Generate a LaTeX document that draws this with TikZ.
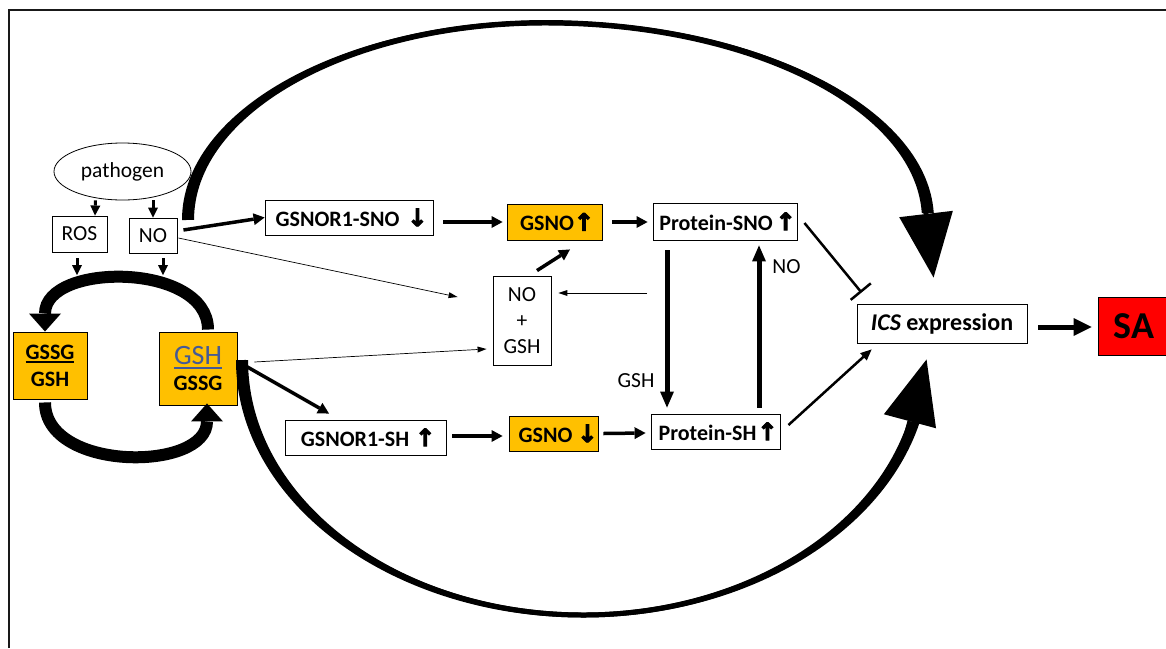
\documentclass[tikz,border=0pt]{standalone}
\usepackage{fontspec}
\setmainfont{Carlito}
\newfontfamily\arrowfont[FakeBold=4]{DejaVu Sans}
\usetikzlibrary{arrows.meta,shapes.geometric}
\definecolor{gold}{HTML}{FFC000}
\definecolor{gshblue}{RGB}{68,90,150}
\newcommand\uarr{\makebox[10pt]{\arrowfont\fontsize{24}{24}\selectfont ↑}}
\newcommand\darr{\makebox[10pt]{\arrowfont\fontsize{24}{24}\selectfont ↓}}
\newcommand\myul[1]{\setbox0\hbox{#1}\rlap{\rule[-4pt]{\wd0}{1.8pt}}\box0}
\tikzset{
  bx/.style={draw=black, line width=0.9pt, rectangle, inner sep=0pt,
    font=\bfseries\fontsize{22}{26}\selectfont, text=black},
  mbx/.style={bx, align=center},
  pbx/.style={bx, align=center, font=\fontsize{21.5}{26}\selectfont},
  lbl/.style={inner sep=0pt, font=\fontsize{21.5}{26}\selectfont},
  thk/.style={line width=3.5pt, -{Triangle[width=12pt,length=11pt,line width=0pt]}},
  sml/.style={line width=3pt, -{Triangle[width=10pt,length=10pt,line width=0pt]}},
  thn/.style={line width=0.7pt, -{Triangle[width=6pt,length=9pt,line width=0pt]}},
  vrt/.style={line width=5pt, -{Triangle[width=14pt,length=16pt,line width=0pt]}},
  cyc/.style={line width=12pt, -{Triangle[width=32pt,length=18pt,line width=0pt]}},
  big/.style={line width=5pt, -{Triangle[width=54pt,length=64pt,line width=0pt]}}
}
\begin{document}
\begin{tikzpicture}[x=1pt,y=-1pt]
\useasboundingbox (0,0) rectangle (1166,648);
% frame
\draw[line width=2pt, black!90] (9,648) -- (9,10) -- (1166,10);

% nodes
\node[draw, ellipse, line width=0.8pt, minimum width=137pt, minimum height=57pt, inner sep=0pt,
  font=\fontsize{21.5}{26}\selectfont] (pathogen) at (122.5,171.5) {pathogen};
\node[pbx, minimum width=55pt, minimum height=36pt] (ROS) at (79.5,234) {ROS};
\node[pbx, minimum width=48pt, minimum height=35pt] (NO) at (153,235.5) {NO};
\node[mbx, fill=gold, minimum width=74pt, minimum height=67pt] (gssg) at (50,365.5)
  {\myul{GSSG}\\[1pt]GSH};
\node[mbx, fill=gold, minimum width=78pt, minimum height=73pt] (gsh) at (198,368.5)
  {{\fontsize{28}{28}\selectfont\mdseries\color{gshblue}\myul{GSH}}\\GSSG};
\node[bx, minimum width=168pt, minimum height=35pt] (gsnorsno) at (349,217.5)
  {GSNOR1-SNO\hspace{13pt}\darr};
\node[bx, fill=gold, minimum width=95pt, minimum height=36pt] (gsnoup) at (554.5,222)
  {GSNO\hspace{5pt}\uarr\hspace{3pt}};
\node[pbx, minimum width=58pt, minimum height=89pt] (nogsh) at (522,320.5) {NO\\+\\GSH};
\node[bx, minimum width=144pt, minimum height=37pt] (psno) at (725,221.5)
  {Protein-SNO\hspace{8pt}\uarr\hspace{4pt}};
\node[bx, minimum width=161pt, minimum height=35pt] (gsnorsh) at (365.5,437.5)
  {GSNOR1-SH\hspace{11pt}\uarr\hspace{14pt}};
\node[bx, fill=gold, minimum width=89pt, minimum height=35pt] (gsnodn) at (553.5,433.5)
  {\hspace{4pt}GSNO\hspace{10pt}\darr};
\node[bx, minimum width=129pt, minimum height=35pt] (psh) at (715.5,431.5)
  {Protein-SH\hspace{6pt}\uarr};
\node[bx, minimum width=170pt, minimum height=39pt, font=\bfseries\fontsize{24}{26}\selectfont]
  (ics) at (942,323.5) {{\itshape ICS} expression};
\node[bx, fill=red, minimum width=72pt, minimum height=58pt,
  font=\bfseries\fontsize{38}{40}\selectfont] (SA) at (1134,326) {SA};
\node[lbl] (gshlbl) at (636,381) {GSH};
\node[lbl] (nolbl) at (786.5,267) {NO};

% free ends
\coordinate (rosdown) at (77,275);
\coordinate (nodown) at (163,275);
\coordinate (rightfree) at (647,293);

% pathogen arrows
\draw[sml] ([shift={(-27,0)}]pathogen.south) -- ([shift={(15.5,0)}]ROS.north);
\draw[sml] ([shift={(30.5,0)}]pathogen.south) -- (NO.north);
\draw[sml] ([shift={(-2.5,6)}]ROS.south) -- (rosdown);
\draw[sml] ([shift={(10,5)}]NO.south) -- (nodown);

% GSSG / GSH cycle
\draw[cyc] ([shift={(10,-2)}]gsh.north) .. controls (208,262) and (45,262) .. ([shift={(-5,0)}]gssg.north);
\draw[cyc] ([shift={(-5,3)}]gssg.south) .. controls (45,472) and (207,472) .. ([shift={(9,-2)}]gsh.south);

% big arcs: tapered bodies
\fill (182,220) arc[start angle=180, end angle=270, x radius=363, y radius=199.5]
  arc[start angle=270, end angle=358, x radius=389, y radius=199.5]
  -- (921.8,213.2)
  arc[start angle=358, end angle=270, x radius=377, y radius=194.5]
  arc[start angle=270, end angle=180, x radius=351, y radius=194.5] -- cycle;
\fill (236,360) arc[start angle=180, end angle=90, x radius=347, y radius=257.5]
  arc[start angle=90, end angle=14, x radius=347, y radius=257.5]
  -- (908.1,421.1)
  arc[start angle=14, end angle=90, x radius=335, y radius=252.5]
  arc[start angle=90, end angle=180, x radius=335, y radius=252.5] -- cycle;
% big arcs: connectors with heads
\draw[big] ([shift={(11,2)}]NO.north east) arc[start angle=180, end angle=270, x radius=357, y radius=197]
  arc[start angle=270, end angle=350, x radius=383, y radius=197] -- ([shift={(77,-26)}]ics.north west);
\draw[big] ([shift={(6,-8.5)}]gsh.east) arc[start angle=180, end angle=90, x radius=340, y radius=255]
  arc[start angle=90, end angle=20, x radius=340, y radius=255] -- ([shift={(70,16)}]ics.south west);

% upper pathway
\draw[thk] ([shift={(6,-5.5)}]NO.east) -- (gsnorsno.west);
\draw[thk] ([shift={(10,4.5)}]gsnorsno.east) -- ([shift={(-4,0)}]gsnoup.west);
\draw[thk] ([shift={(10,0)}]gsnoup.east) -- ([shift={(-5,0.5)}]psno.west);
\draw[thk] ([shift={(15,-5)}]nogsh.north) -- ([shift={(15.5,9)}]gsnoup.south);

% thin arrows
\draw[thn] ([shift={(1,2.5)}]NO.east) -- ([shift={(-35,-23.5)}]nogsh.west);
\draw[thn] ([shift={(17,-6.5)}]gsh.east) -- ([shift={(-6,28.5)}]nogsh.west);
\draw[thn] (rightfree) -- ([shift={(7,-27.5)}]nogsh.east);

% lower pathway
\draw[thk] ([shift={(3,-5.5)}]gsh.east) -- ([shift={(-36.5,-6)}]gsnorsh.north);
\draw[thk] ([shift={(6,-1.5)}]gsnorsh.east) -- ([shift={(-6,2.5)}]gsnodn.west);
\draw[thk] ([shift={(5,0)}]gsnodn.east) -- ([shift={(-5,1.5)}]psh.west);

% protein interconversion
\draw[vrt] ([shift={(-58,10)}]psno.south) -- ([shift={(-48.5,-6)}]psh.north);
\draw[vrt] ([shift={(43.5,-6)}]psh.north) -- ([shift={(34,5)}]psno.south);

% to ICS
\draw[line width=2.5pt, -{Bar[width=26pt,line width=2.5pt]}] ([shift={(7,1.5)}]psno.east) -- ([shift={(5,-11)}]ics.north west);
\draw[line width=2.5pt, -{Triangle[width=10pt,length=11pt,line width=0pt]}] ([shift={(8,-6.5)}]psh.east) -- ([shift={(15,6)}]ics.south west);
\draw[line width=5pt, -{Triangle[width=18pt,length=18pt,line width=0pt]}] ([shift={(11,3.5)}]ics.east) -- ([shift={(-6,1)}]SA.west);
\end{tikzpicture}
\end{document}
